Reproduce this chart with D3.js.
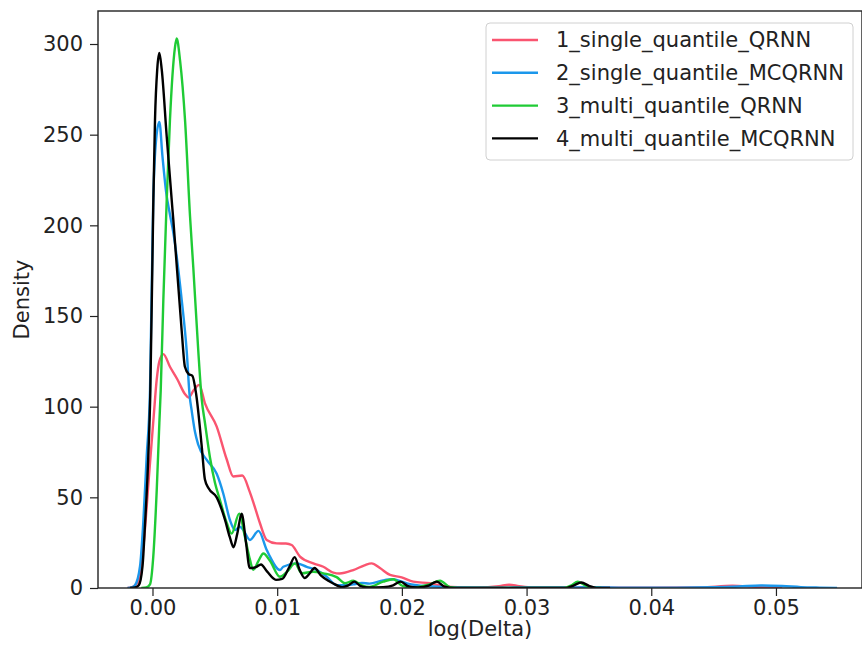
<!DOCTYPE html>
<html>
<head>
<meta charset="utf-8">
<script src="https://cdn.jsdelivr.net/npm/d3@7"></script>
<style>
  body { margin: 0; background: #fff; }
  svg { display: block; font-family: "DejaVu Sans", sans-serif; }
</style>
</head>
<body>
<script>
let w = 862;
let h = 657;

// plot area (pixels)
let plotLeft = 98, plotRight = 862, plotTop = 11, plotBottom = 588;
let fontSize = "21px";

let seriesNames = ["1_single_quantile_QRNN", "2_single_quantile_MCQRNN",
  "3_multi_quantile_QRNN", "4_multi_quantile_MCQRNN"];
let seriesColors = ["#fa5570", "#1b97eb", "#1fcb35", "#000000"];

let xTicks = [0, 0.01, 0.02, 0.03, 0.04, 0.05];
let yTicks = [0, 50, 100, 150, 200, 250, 300];

// KDE curves: [log(Delta), density]
let red = [[-0.002,0],[-0.0016,0.5],[-0.0012,3],[-0.0007,25],[-0.0003,60],[0.0001,95],
  [0.00034,115],[0.00055,125],[0.00087,129],[0.0014,122],[0.002,115],[0.0026,107],
  [0.0029,105],[0.0033,109],[0.00375,112],[0.0042,102],[0.00515,89],[0.00595,71],
  [0.00648,61.5],[0.0072,62],[0.0078,53],[0.0081,47],[0.00862,35.7],[0.00916,26.5],
  [0.00996,24.6],[0.0107,24.5],[0.01116,23.7],[0.01183,17.3],[0.0129,13.6],[0.0137,11.7],
  [0.0145,8.5],[0.015,8],[0.0161,9.9],[0.017,12.5],[0.01758,13.6],[0.01824,11],
  [0.01905,7.2],[0.01998,5.9],[0.02091,3.5],[0.02225,2.6],[0.02332,1.1],[0.0245,0.4],
  [0.026,0.3],[0.0278,1],[0.0286,1.8],[0.0294,1],[0.0305,0.3],[0.033,0.3],[0.036,0.2],
  [0.04,0.1],[0.044,0.3],[0.0465,1.2],[0.048,0.8],[0.0495,0.2],[0.0505,0]];

let blue = [[-0.002,0],[-0.0016,0.5],[-0.0014,1.5],[-0.001,12],[-0.00074,36],[-0.00047,72],
  [-0.0002,109],[0.00006,214],[0.0003,248],[0.00055,257],[0.0008,238],[0.0011,218],
  [0.0014,206],[0.00167,196],[0.00234,159],[0.00274,131],[0.00298,106],[0.00314,98],
  [0.00341,86],[0.00367,79],[0.00435,70.6],[0.00515,63],[0.00568,52],[0.00621,37.5],
  [0.00662,32],[0.00702,33.8],[0.00728,32],[0.00782,26.5],[0.0085,31.5],[0.00916,21],
  [0.00942,17.3],[0.01022,9.9],[0.01049,11.7],[0.01156,13.6],[0.01237,11.7],[0.01317,9.9],
  [0.01397,6.2],[0.01477,1.6],[0.01557,1.6],[0.0161,2],[0.0168,2.8],[0.0174,2.4],
  [0.0185,4.2],[0.0193,4.8],[0.02,3.5],[0.0204,2.6],[0.0212,1.5],[0.0222,1],[0.0235,0.5],
  [0.025,0.3],[0.028,0.2],[0.03,0.3],[0.033,0.3],[0.035,0.4],[0.038,0.2],[0.042,0.2],
  [0.045,0.4],[0.047,0.8],[0.0488,1.4],[0.0505,1.1],[0.052,0.5],[0.0535,0.2],[0.0549,0]];

let green = [[-0.0009,0],[-0.0005,0.3],[-0.0002,2],[0.00006,17],[0.00034,54],[0.00055,91],
  [0.00066,109],[0.00087,159],[0.00114,214],[0.0014,258],[0.0018,298],[0.00194,303],
  [0.00221,291],[0.00261,258],[0.00301,205],[0.00327,177],[0.00367,131],[0.00395,104],
  [0.00421,91],[0.00461,72],[0.00501,58],[0.00541,48.5],[0.00595,36],[0.00635,30],
  [0.00695,41],[0.00742,28],[0.00782,15.5],[0.00808,10],[0.0085,15],[0.00889,19],
  [0.00942,15],[0.01022,6.2],[0.0108,9],[0.01143,13.6],[0.01196,8.1],[0.0129,9],
  [0.0137,8.1],[0.01477,6],[0.01544,2.6],[0.0161,4],[0.0168,1.5],[0.0174,0.6],
  [0.0185,3.5],[0.01931,4.8],[0.0201,1],[0.021,0.3],[0.0222,2],[0.02306,4],[0.02386,0.5],
  [0.025,0],[0.033,0],[0.0336,1.5],[0.0341,3.5],[0.0347,1.5],[0.0354,0],[0.036,0]];

let black = [[-0.0018,0],[-0.0014,0.3],[-0.0011,1.5],[-0.0008,12],[-0.0006,35],[-0.00034,72],
  [-0.00018,106],[0.00006,210],[0.0002,258],[0.00038,286],[0.00055,295],[0.00074,286],
  [0.00114,249],[0.00154,214],[0.00167,203],[0.00234,142],[0.0026,122],[0.0029,118],
  [0.0032,117],[0.0035,107],[0.00395,78],[0.0042,60],[0.0045,55],[0.00515,50],[0.0058,38],
  [0.0062,28],[0.0065,22.5],[0.0068,30],[0.00715,41],[0.0075,25],[0.0078,11],[0.0083,11.5],
  [0.0087,13],[0.0092,9],[0.0099,4.5],[0.0104,5],[0.011,12],[0.0114,17],[0.0118,10],
  [0.0122,5.5],[0.0126,8],[0.013,11],[0.0135,7],[0.0141,4],[0.0145,2.5],[0.0152,0.5],
  [0.0157,1.5],[0.0162,3.5],[0.0167,1],[0.0173,0.3],[0.0185,0.5],[0.0193,1.5],[0.0199,3.5],
  [0.0205,1],[0.0213,0.3],[0.0222,1.5],[0.0228,3.5],[0.0234,0.8],[0.0242,0],[0.0332,0],
  [0.0338,1.5],[0.0344,3],[0.035,1.2],[0.0356,0],[0.0367,0]];

let curves = [red, blue, green, black];

let xScale = d3.scaleLinear()
  .domain([-0.00437, 0.0569])
  .range([plotLeft, plotRight]);

let yScale = d3.scaleLinear()
  .domain([0, 318.2])
  .range([plotBottom, plotTop]);

let svg = d3.select("body")
  .append("svg")
  .attr("width", w)
  .attr("height", h);

svg.append("defs").append("clipPath")
  .attr("id", "plot")
  .append("rect")
  .attr("x", plotLeft).attr("y", plotTop)
  .attr("width", plotRight - plotLeft).attr("height", plotBottom - plotTop);

//Create lines
let line = d3.line()
  .x(d => xScale(d[0]))
  .y(d => yScale(d[1]))
  .curve(d3.curveMonotoneX);

svg.append("g")
  .attr("clip-path", "url(#plot)")
  .selectAll("path")
  .data(curves)
  .enter()
  .append("path")
  .attr("d", line)
  .attr("fill", "none")
  .attr("stroke", (d, i) => seriesColors[i])
  .attr("stroke-width", 2.4)
  .attr("stroke-linejoin", "round");

// Axes
svg.append("g")
  .attr("transform", "translate(0," + plotBottom + ")")
  .call(d3.axisBottom(xScale).tickValues(xTicks).tickFormat(d3.format(".2f")).tickSize(8).tickPadding(4));

svg.append("g")
  .attr("transform", "translate(" + plotLeft + ",0)")
  .call(d3.axisLeft(yScale).tickValues(yTicks).tickSize(8).tickPadding(7));

svg.selectAll(".domain").remove();
svg.selectAll(".tick line").attr("stroke", "#222").attr("stroke-width", 1.2);
svg.selectAll(".tick text")
  .attr("font-family", "DejaVu Sans")
  .attr("font-size", fontSize)
  .attr("fill", "#222");

// frame
svg.append("rect")
  .attr("x", plotLeft).attr("y", plotTop)
  .attr("width", plotRight - plotLeft).attr("height", plotBottom - plotTop)
  .attr("fill", "none")
  .attr("stroke", "#222")
  .attr("stroke-width", 1.4);

// Axis labels
svg.append("text")
  .text("log(Delta)")
  .attr("x", (plotLeft + plotRight) / 2)
  .attr("y", 636)
  .attr("text-anchor", "middle")
  .attr("font-size", fontSize)
  .attr("fill", "#222");

svg.append("text")
  .text("Density")
  .attr("transform", "translate(29," + (plotTop + plotBottom) / 2 + ") rotate(-90)")
  .attr("text-anchor", "middle")
  .attr("font-size", fontSize)
  .attr("fill", "#222");

// Legend
let legend = svg.append("g");

legend.append("rect")
  .attr("x", 486).attr("y", 23)
  .attr("width", 367).attr("height", 137)
  .attr("rx", 4)
  .attr("fill", "white")
  .attr("fill-opacity", 0.8)
  .attr("stroke", "#d0d0d0");

let items = legend.selectAll("g.item")
  .data(seriesNames)
  .enter()
  .append("g")
  .attr("class", "item")
  .attr("transform", (d, i) => "translate(0," + (40 + i * 32.8) + ")");

items.append("line")
  .attr("x1", 492).attr("x2", 538)
  .attr("stroke", (d, i) => seriesColors[i])
  .attr("stroke-width", 2.4);

items.append("text")
  .text(d => d)
  .attr("x", 556)
  .attr("dy", "0.35em")
  .attr("font-size", fontSize)
  .attr("fill", "#222");
</script>
</body>
</html>
